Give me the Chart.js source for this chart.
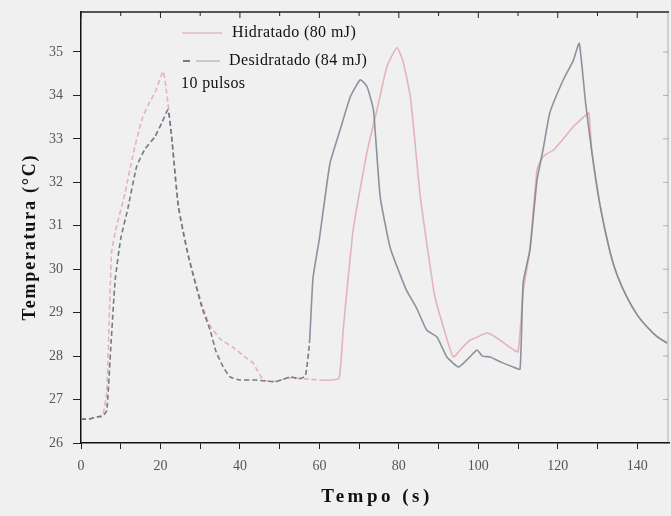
<!DOCTYPE html>
<html>
<head>
<meta charset="utf-8">
<script src="https://cdn.jsdelivr.net/npm/chart.js@4.4.1/dist/chart.umd.min.js"></script>
<style>
  html, body { margin: 0; padding: 0; background: #f0f0f0; }
  #wrap { width: 671px; height: 516px; }
</style>
</head>
<body>
<div id="wrap"><canvas id="grafico"></canvas></div>
<script>
// datos (tiempo en s, temperatura en C)
var tiempoHid = [0, 2, 4, 5.5, 6.5, 7.7, 9, 11.1, 13, 15.3, 17, 18.6, 20.7, 21.5, 22.8, 24.5, 27, 30.4, 32.5, 35, 38.3, 41, 43.3, 45.9, 49, 52.6, 56, 60, 63, 65, 66, 68.5, 72, 74.5, 77, 79.5, 81, 82.9, 85.4, 87.5, 89, 91.2, 93.7, 96, 98, 100, 102.2, 105, 108, 110, 111.3, 113, 114.8, 116.4, 119, 121.4, 123.9, 126.5, 127.8, 128.6, 130.7, 133.2, 135, 137.4, 140, 142.5, 145, 147.5];
var tempHid = [26.55, 26.55, 26.6, 26.65, 27.2, 30.4, 31.0, 31.76, 32.6, 33.44, 33.8, 34.06, 34.55, 34.1, 33.1, 31.5, 30.35, 29.2, 28.7, 28.4, 28.2, 28.0, 27.84, 27.45, 27.42, 27.5, 27.48, 27.45, 27.45, 27.5, 28.6, 30.9, 32.7, 33.67, 34.66, 35.1, 34.8, 33.97, 31.67, 30.3, 29.4, 28.67, 27.98, 28.2, 28.37, 28.45, 28.53, 28.4, 28.2, 28.1, 29.5, 30.45, 32.3, 32.6, 32.75, 33.0, 33.28, 33.5, 33.6, 32.7, 31.44, 30.38, 29.85, 29.36, 28.95, 28.67, 28.45, 28.3];

var tiempoDes = [0, 2, 4, 5.5, 6.5, 7.5, 8.6, 10, 11.8, 14, 16, 18.6, 20.5, 21.9, 22.8, 24.5, 27, 30.4, 32.5, 34, 35.8, 37.5, 40, 44, 49, 52.6, 55, 56.5, 57.5, 58.4, 60, 61, 62.7, 65.2, 67.8, 70.3, 72, 73.6, 75.3, 77.8, 80, 82, 84.5, 87, 89.6, 92.1, 95, 97, 99.7, 101, 103, 106, 108.8, 110.5, 111.3, 113, 114.8, 116.4, 118, 121.4, 123.9, 125.4, 127, 128.6, 130.7, 133.2, 135, 137.4, 140, 142.5, 145, 147.5];
var tempDes = [26.55, 26.55, 26.6, 26.62, 26.75, 28.2, 29.75, 30.7, 31.4, 32.36, 32.75, 33.05, 33.4, 33.67, 33.05, 31.44, 30.3, 29.13, 28.6, 28.1, 27.75, 27.52, 27.45, 27.45, 27.41, 27.52, 27.48, 27.55, 28.3, 29.8, 30.7, 31.37, 32.45, 33.2, 33.97, 34.36, 34.2, 33.67, 31.67, 30.5, 29.95, 29.5, 29.1, 28.6, 28.44, 27.98, 27.75, 27.9, 28.14, 28.0, 27.98, 27.85, 27.75, 27.7, 29.7, 30.45, 32.06, 32.8, 33.6, 34.36, 34.8, 35.2, 33.83, 32.68, 31.44, 30.38, 29.85, 29.36, 28.95, 28.67, 28.45, 28.3];

var ticksTemp = [26, 27, 28, 29, 30, 31, 32, 33, 34, 35];
var ticksTiempo = [0, 10, 20, 30, 40, 50, 60, 70, 80, 90, 100, 110, 120, 130, 140];
var etiquetasTiempo = [0, 20, 40, 60, 80, 100, 120, 140];

var serif = '"Liberation Serif", "DejaVu Serif", serif';

function puntos(xs, ys) {
	return xs.map(function(x, i){ return {x: x, y: ys[i]}; });
}

// primer pulso en trazos y mas oscuro
function trazo(ctx) {
	return ctx.p0.parsed.x < 57 ? [5, 3] : undefined;
}

var fondo = {
	id: 'fondo',
	beforeDraw: function(chart) {
		var c = chart.ctx;
		c.save();
		c.fillStyle = '#f0f0f0';
		c.fillRect(0, 0, chart.width, chart.height);
		c.restore();
	}
};

// marco superior y derecho, titulos, leyenda y nota
var marco = {
	id: 'marco',
	afterDraw: function(chart) {
		var c = chart.ctx, a = chart.chartArea;
		var sx = chart.scales.x, sy = chart.scales.y;
		c.save();
		c.strokeStyle = '#222';
		c.lineWidth = 1.5;
		c.beginPath();
		c.moveTo(a.left, a.top); c.lineTo(a.right, a.top);
		c.stroke();
		c.lineWidth = 1;
		ticksTiempo.forEach(function(v){
			var px = sx.getPixelForValue(v);
			c.beginPath();
			c.moveTo(px, a.top);
			c.lineTo(px, a.top + (v % 20 === 0 ? 6 : 4));
			c.stroke();
		});
		c.strokeStyle = 'rgba(60,60,60,0.35)';
		c.beginPath();
		c.moveTo(a.right - 1, a.top); c.lineTo(a.right - 1, a.bottom);
		c.stroke();
		ticksTemp.forEach(function(t){
			var py = sy.getPixelForValue(t);
			c.beginPath();
			c.moveTo(a.right - 6, py); c.lineTo(a.right - 1, py);
			c.stroke();
		});

		// titulos de ejes
		c.fillStyle = '#111';
		c.textAlign = 'center';
		c.textBaseline = 'middle';
		c.letterSpacing = '3.5px';
		c.font = 'bold 19px ' + serif;
		c.fillText('Tempo (s)', (a.left + a.right) / 2 + 2, 497);
		c.save();
		c.translate(30, 237);
		c.rotate(-Math.PI / 2);
		c.letterSpacing = '1.8px';
		c.font = 'bold 18px ' + serif;
		c.fillText('Temperatura (°C)', 0, 0);
		c.restore();

		// leyenda
		c.textAlign = 'left';
		c.letterSpacing = '0.4px';
		c.font = '16px ' + serif;
		c.lineWidth = 1.5;
		c.strokeStyle = 'rgba(225,175,180,0.8)';
		c.beginPath(); c.moveTo(182, 33); c.lineTo(222, 33); c.stroke();
		c.fillText('Hidratado (80 mJ)', 232, 33);
		c.strokeStyle = 'rgba(150,155,170,0.6)';
		c.beginPath(); c.moveTo(196, 61); c.lineTo(220, 61); c.stroke();
		c.strokeStyle = '#555';
		c.beginPath(); c.moveTo(183, 61); c.lineTo(190, 61); c.stroke();
		c.fillText('Desidratado (84 mJ)', 229, 61);
		c.fillText('10 pulsos', 181, 84);
		c.restore();
	}
};

var canvas_temp = document.getElementById('grafico').getContext('2d');

window.grafico_temp = new Chart(canvas_temp, {
	type: 'line',
	data: {
		datasets: [
		{
			label: 'Desidratado (84 mJ)',
			data: puntos(tiempoDes, tempDes),
			borderColor: 'rgba(125,128,145,0.85)',
			borderWidth: 1.6,
			pointRadius: 0,
			tension: 0.15,
			order: 0,
			segment: {
				borderDash: trazo,
				borderColor: function(ctx){ return ctx.p0.parsed.x < 57 ? 'rgba(95,100,118,0.85)' : undefined; }
			}
		},
		{
			label: 'Hidratado (80 mJ)',
			data: puntos(tiempoHid, tempHid),
			borderColor: 'rgba(228,172,178,0.9)',
			borderWidth: 1.6,
			pointRadius: 0,
			tension: 0.15,
			order: 1,
			segment: { borderDash: trazo }
		}
		]
	},
	options: {
		responsive: true,
		maintainAspectRatio: false,
		animation: false,
		layout: { padding: { top: 12, right: 2, left: 0, bottom: 0 } },
		plugins: {
			legend: { display: false },
			tooltip: { enabled: false }
		},
		scales: {
			x: {
				type: 'linear',
				min: 0,
				max: 148,
				afterFit: function(s){ s.height = 73; },
				afterBuildTicks: function(s){
					s.ticks = ticksTiempo.map(function(v){ return {value: v}; });
				},
				ticks: {
					autoSkip: false,
					maxRotation: 0,
					color: '#555',
					font: { family: serif, size: 14 },
					padding: 9,
					callback: function(v){ return etiquetasTiempo.indexOf(v) >= 0 ? v : ''; }
				},
				grid: { drawOnChartArea: false, drawTicks: true, tickLength: 6, color: '#222' },
				border: { color: '#111', width: 1.5 }
			},
			y: {
				min: 26,
				max: 35.92,
				afterFit: function(s){
					s.width = 81;
					s.paddingTop = 0;
					s.paddingBottom = 0;
				},
				afterBuildTicks: function(s){
					s.ticks = ticksTemp.map(function(v){ return {value: v}; });
				},
				ticks: {
					color: '#555',
					font: { family: serif, size: 14 },
					padding: 10
				},
				grid: { drawOnChartArea: false, drawTicks: true, tickLength: 8, color: '#222' },
				border: { color: '#111', width: 1.5 }
			}
		}
	},
	plugins: [fondo, marco]
});
</script>
</body>
</html>
